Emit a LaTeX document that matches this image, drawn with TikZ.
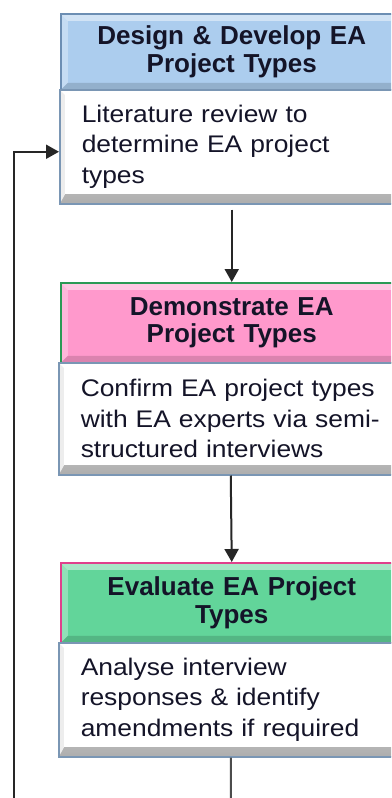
\documentclass[tikz,border=0pt]{standalone}
\usepackage{fontspec}
\setmainfont{Liberation Sans}
\newfontfamily\bodyfont[FakeStretch=1.1]{Liberation Sans}
\usetikzlibrary{arrows.meta,calc}
\definecolor{hblue}{HTML}{ACCDEE}
\definecolor{hpink}{HTML}{FF99CC}
\definecolor{hgreen}{HTML}{62D59A}
\definecolor{bblue}{HTML}{6C8EB3}
\definecolor{bgreen}{HTML}{2A9A55}
\definecolor{bpink}{HTML}{E0408C}
\definecolor{bodyline}{HTML}{7A96B4}
\definecolor{txt}{HTML}{141428}
\tikzset{
  hdrbevel/.style={path picture={
    \fill[white,opacity=0.45] (path picture bounding box.north west) -- (path picture bounding box.north east)
      -- ([xshift=-7pt,yshift=-7pt]path picture bounding box.north east) -- ([xshift=7pt,yshift=-7pt]path picture bounding box.north west) -- cycle;
    \fill[white,opacity=0.3] (path picture bounding box.north west) -- (path picture bounding box.south west)
      -- ([xshift=7pt,yshift=7pt]path picture bounding box.south west) -- ([xshift=7pt,yshift=-7pt]path picture bounding box.north west) -- cycle;
    \fill[black,opacity=0.14] (path picture bounding box.south west) -- (path picture bounding box.south east)
      -- ([xshift=-7pt,yshift=7pt]path picture bounding box.south east) -- ([xshift=7pt,yshift=7pt]path picture bounding box.south west) -- cycle;
  }},
  bodybevel/.style={path picture={
    \shade[top color=white,bottom color=black!32] ([yshift=9pt]path picture bounding box.south west) rectangle (path picture bounding box.south east);
    \fill[black!7] (path picture bounding box.north west) -- (path picture bounding box.south west)
      -- ([xshift=5pt,yshift=9pt]path picture bounding box.south west) -- ([xshift=5pt,yshift=-5pt]path picture bounding box.north west) -- cycle;
  }},
  hdr/.style={draw=#1, line width=1.5pt, anchor=north west, minimum width=342pt,
    text width=320pt, align=center, inner sep=0pt, text=txt, hdrbevel,
    font=\fontsize{26}{28}\selectfont\bfseries},
  bodybox/.style={draw=bodyline, line width=1.5pt, fill=white, anchor=north west, minimum width=344pt,
    text width=300pt, align=left, inner xsep=21pt, inner ysep=0pt, text=txt, bodybevel,
    font=\bodyfont\fontsize{24}{30.5}\selectfont},
  link/.style={draw=black!85, line width=2pt, -{Triangle[width=14pt,length=13pt]}},
  plain/.style={draw=black!70, line width=2pt}
}
\begin{document}
\begin{tikzpicture}[x=1pt,y=-1pt]
\useasboundingbox (0,0) rectangle (391,798);
\clip (0,0) rectangle (391,798);
\fill[white] (0,0) rectangle (391,798);

\node[hdr=bblue, fill=hblue, minimum height=76pt] (h1) at (60,13) {Design \& Develop EA\\Project Types};
\node[bodybox, minimum height=114pt] (b1) at (59,89) {Literature review to\\determine EA project\\types};

\node[hdr=bgreen, fill=hpink, minimum height=80pt] (h2) at (60,282) {Demonstrate EA\\Project Types};
\node[bodybox, minimum height=112pt] (b2) at (58,362) {Confirm EA project types\\with EA experts via semi-\\structured interviews};

\node[hdr=bpink, fill=hgreen, minimum height=80pt] (h3) at (60,562) {Evaluate EA Project\\Types};
\node[bodybox, minimum height=114pt] (b3) at (58,642) {Analyse interview\\responses \& identify\\amendments if required};

\coordinate (endA) at (231,805);
\coordinate (endB) at (14,805);

\draw[link, shorten <=5pt] (b1.south) -- (h2.north);
\draw[link] (b2.south) -- (h3.north);
\draw[plain] (b3.south) -- (endA);
\draw[link] (endB) |- ([yshift=-5pt]b1.west);
\end{tikzpicture}
\end{document}
